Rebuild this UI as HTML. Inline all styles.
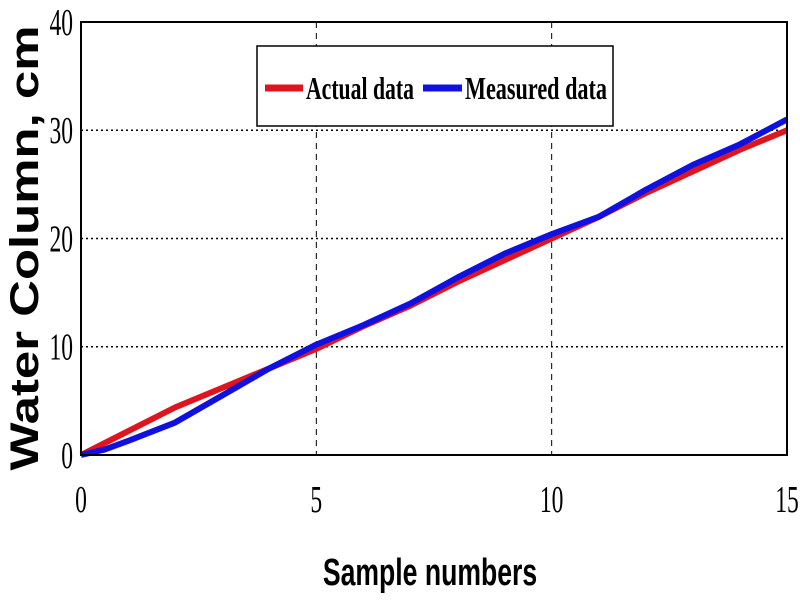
<!DOCTYPE html>
<html><head><meta charset="utf-8"><style>
body{margin:0;background:#fff;}
svg{display:block;}
</style></head><body>
<svg id="chart" width="800" height="600" xmlns="http://www.w3.org/2000/svg"></svg>
<script>
const xTicks=[0,5,10,15];
const yTicks=[0,10,20,30,40];
const actualX=[0,1,2,3,4,5,6,7,8,9,10,11,12,13,14,15];
const actualY=[0,2.2,4.4,6.2,8,9.8,11.9,13.8,16,18,20,22,24.2,26.2,28.2,30];
const measuredX=[0,0.5,1,2,3,4,5,6,7,8,9,10,11,12,13,14,15];
const measuredY=[0,0.5,1.3,3,5.5,8,10.2,12,14,16.4,18.6,20.4,22,24.5,26.8,28.7,31];
const L=81,R=787,T=22,B=455;
const sx=v=>L+(v-0)/15*(R-L);
const sy=v=>B-(v-0)/40*(B-T);
const svg=document.getElementById('chart');
const NS='http://www.w3.org/2000/svg';
function mk(tag,attrs){const e=document.createElementNS(NS,tag);for(const k in attrs)e.setAttribute(k,attrs[k]);svg.appendChild(e);return e;}
xTicks.forEach(v=>{if(v>0&&v<15){const g=mk('line',{x1:sx(v),x2:sx(v),y1:T,y2:B,stroke:'#000','stroke-width':1,'stroke-dasharray':'6,5'});

}});
yTicks.forEach(v=>{if(v>0&&v<40){const g=mk('line',{x1:L,x2:R,y1:sy(v),y2:sy(v),stroke:'#000','stroke-width':1.5,'stroke-dasharray':'2,3'});

}});
function series(xs,ys,color,name){const d=xs.map((x,i)=>(i?'L':'M')+sx(x)+','+sy(ys[i])).join(' ');
const p=mk('path',{d:d,fill:'none',stroke:color,'stroke-width':6,'stroke-linejoin':'round'});

}
series(actualX,actualY,'#e0141e','actual-data-line');
series(measuredX,measuredY,'#1010e0','measured-data-line');
const f=mk('rect',{x:L,y:T,width:R-L,height:B-T,fill:'none',stroke:'#000','stroke-width':2});


xTicks.forEach(v=>{const t=mk('text',{x:sx(v),y:512,'text-anchor':'middle','font-family':'Liberation Serif, serif','font-size':38,transform:`translate(${sx(v)},0) scale(0.62,1) translate(${-sx(v)},0)`});t.textContent=v;

});
yTicks.forEach(v=>{const t=mk('text',{x:73,y:sy(v)+13,'text-anchor':'end','font-family':'Liberation Serif, serif','font-size':38,transform:`translate(73,0) scale(0.62,1) translate(-73,0)`});t.textContent=v;

});
const xt=mk('text',{x:430,y:585,'text-anchor':'middle','font-family':'Liberation Sans, sans-serif','font-size':38,'font-weight':'bold',transform:'translate(430,0) scale(0.7,1) translate(-430,0)'});xt.textContent='Sample numbers';


const yt=mk('text',{x:0,y:0,'text-anchor':'middle','font-family':'Liberation Sans, sans-serif','font-size':40,'font-weight':'bold',textLength:445,lengthAdjust:'spacingAndGlyphs',transform:'translate(38,248) rotate(-90)'});yt.textContent='Water Column, cm';


const lg=mk('rect',{x:257,y:46,width:356,height:80,fill:'#fff',stroke:'#000','stroke-width':1.5});


const l1=mk('line',{x1:265,x2:303,y1:88,y2:88,stroke:'#e0141e','stroke-width':7});


const t1=mk('text',{x:306,y:99,'font-family':'Liberation Serif, serif','font-size':32,'font-weight':'bold',textLength:108,lengthAdjust:'spacingAndGlyphs'});t1.textContent='Actual data';


const l2=mk('line',{x1:423,x2:462,y1:88,y2:88,stroke:'#1010e0','stroke-width':7});


const t2=mk('text',{x:465,y:99,'font-family':'Liberation Serif, serif','font-size':32,'font-weight':'bold',textLength:142,lengthAdjust:'spacingAndGlyphs'});t2.textContent='Measured data';


</script>
</body></html>
